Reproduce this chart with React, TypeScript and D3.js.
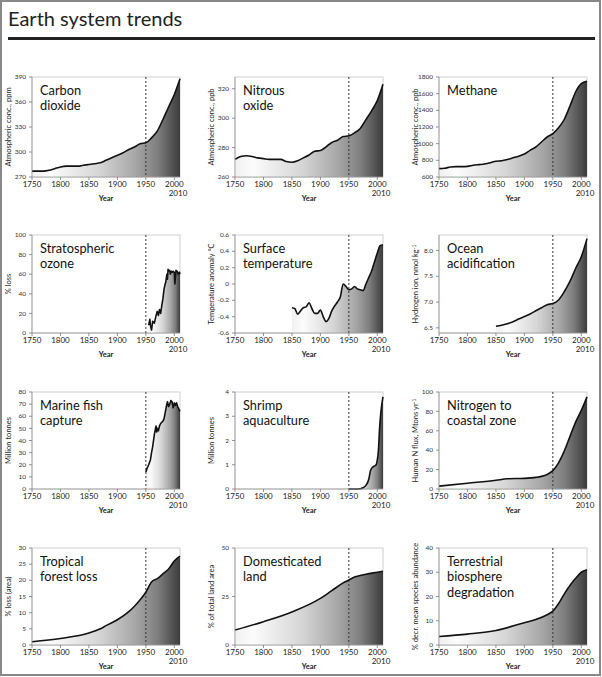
import React from 'react';
import * as d3 from 'd3';

const yearTicks = [1750, 1800, 1850, 1900, 1950, 2000];

const co2Years = [1750, 1760, 1770, 1780, 1790, 1800, 1810, 1820, 1830, 1840, 1850, 1860, 1870, 1880, 1890, 1900, 1910, 1920, 1930, 1940, 1950, 1960, 1970, 1980, 1990, 2000, 2010];
const co2Values = [277, 277, 277, 278, 280, 282, 283, 283, 283, 284, 285, 286, 287, 290, 293, 296, 299, 303, 306, 310, 311, 317, 325, 339, 354, 369, 388];

const n2oYears = [1750, 1760, 1770, 1780, 1790, 1800, 1810, 1820, 1830, 1840, 1850, 1860, 1870, 1880, 1890, 1900, 1910, 1920, 1930, 1940, 1950, 1960, 1970, 1980, 1990, 2000, 2010];
const n2oValues = [272, 274, 274.5, 274, 273, 272.5, 272, 272, 272, 270.5, 270, 271, 273, 275, 277.5, 278, 280.5, 283.5, 285, 287.5, 288, 290, 293, 299, 305, 312, 323];

const ch4Years = [1750, 1760, 1770, 1780, 1790, 1800, 1810, 1820, 1830, 1840, 1850, 1860, 1870, 1880, 1890, 1900, 1910, 1920, 1930, 1940, 1950, 1960, 1970, 1980, 1990, 2000, 2010];
const ch4Values = [700, 705, 720, 725, 725, 728, 740, 748, 755, 770, 790, 795, 810, 830, 850, 875, 920, 960, 1020, 1080, 1120, 1190, 1290, 1450, 1620, 1720, 1750];

const ozoneYears = [1955, 1957, 1958, 1960, 1962, 1965, 1968, 1970, 1972, 1974, 1976, 1978, 1980, 1982, 1984, 1985, 1987, 1988, 1989, 1990, 1992, 1993, 1995, 1997, 1998, 2000, 2001, 2003, 2005, 2007, 2009, 2010];
const ozoneValues = [8, 14, 8, 3, 12, 10, 18, 22, 18, 24, 20, 28, 35, 45, 50, 52, 60, 55, 65, 63, 64, 60, 63, 62, 63, 62, 50, 64, 63, 60, 62, 60];

const tempYears = [1850, 1855, 1860, 1865, 1870, 1875, 1880, 1885, 1890, 1895, 1900, 1905, 1910, 1915, 1920, 1925, 1930, 1935, 1940, 1945, 1950, 1955, 1960, 1965, 1970, 1975, 1980, 1985, 1990, 1995, 2000, 2005, 2010];
const tempValues = [-0.29, -0.3, -0.37, -0.33, -0.29, -0.28, -0.23, -0.3, -0.36, -0.36, -0.32, -0.4, -0.46, -0.42, -0.33, -0.27, -0.22, -0.16, 0.0, -0.03, -0.07, -0.06, -0.03, -0.06, -0.07, -0.08, 0.0, 0.08, 0.16, 0.27, 0.38, 0.47, 0.48];

const oceanYears = [1850, 1860, 1870, 1880, 1890, 1900, 1910, 1920, 1930, 1940, 1950, 1960, 1970, 1980, 1990, 2000, 2010];
const oceanValues = [6.53, 6.55, 6.58, 6.62, 6.67, 6.72, 6.77, 6.83, 6.89, 6.95, 6.97, 7.04, 7.2, 7.4, 7.65, 7.88, 8.23];

const fishYears = [1950, 1952, 1955, 1958, 1960, 1962, 1965, 1967, 1968, 1969, 1970, 1972, 1974, 1976, 1978, 1980, 1982, 1984, 1986, 1988, 1990, 1992, 1994, 1996, 1998, 2000, 2002, 2004, 2006, 2008, 2010];
const fishValues = [14, 17, 20, 24, 30, 35, 45, 50, 52, 47, 50, 48, 52, 54, 55, 56, 58, 63, 68, 72, 68, 70, 73, 72, 67, 71, 69, 71, 68, 66, 64];

const shrimpYears = [1950, 1960, 1970, 1975, 1980, 1985, 1988, 1990, 1995, 1998, 2000, 2002, 2004, 2006, 2008, 2010];
const shrimpValues = [0, 0, 0.01, 0.05, 0.15, 0.4, 0.75, 0.85, 0.95, 1.0, 1.2, 1.6, 2.5, 3.1, 3.5, 3.8];

const nitrogenYears = [1750, 1800, 1850, 1870, 1900, 1920, 1930, 1940, 1950, 1960, 1970, 1980, 1990, 2000, 2010];
const nitrogenValues = [3, 6, 9, 10.5, 11, 12, 13, 15, 19, 27, 39, 54, 69, 81, 95];

const forestYears = [1750, 1800, 1850, 1870, 1880, 1900, 1920, 1930, 1940, 1950, 1960, 1970, 1980, 1990, 2000, 2010];
const forestValues = [1, 2, 3.7, 5, 6, 7.8, 10.3, 12, 14, 16.3, 19.5, 20.5, 22, 23.5, 26, 27.5];

const landYears = [1750, 1800, 1850, 1900, 1920, 1940, 1950, 1960, 1980, 2000, 2010];
const landValues = [7.7, 12, 17, 24, 28, 32, 33.5, 35, 36.5, 37.5, 38];

const bioYears = [1750, 1800, 1850, 1900, 1920, 1940, 1950, 1960, 1970, 1980, 1990, 2000, 2010];
const bioValues = [3.5, 4.5, 6, 9.2, 10.5, 12.5, 14, 17, 21, 24.5, 27.5, 30, 31];

const FONT = 'Lato, "Open Sans", sans-serif';
const COL_X = [32, 235, 439];
const ROW_Y = [77, 235, 392, 548];
const ROW_H = [100, 98, 97, 97];
const PW = 148;

type PanelDef = {
  id: string;
  years: number[];
  values: number[];
  domain: [number, number];
  ticks: number[];
  fmt?: (v: number) => string;
  title: string[];
  ylabel: React.ReactNode;
  col: number;
  row: number;
  jagged?: boolean;
};

const panels: PanelDef[] = [
  { id: 'co2', years: co2Years, values: co2Values, domain: [270, 390], ticks: [270, 300, 330, 360, 390], title: ['Carbon', 'dioxide'], ylabel: 'Atmospheric conc., ppm', col: 0, row: 0 },
  { id: 'n2o', years: n2oYears, values: n2oValues, domain: [260, 328], ticks: [260, 280, 300, 320], title: ['Nitrous', 'oxide'], ylabel: 'Atmospheric conc., ppb', col: 1, row: 0 },
  { id: 'ch4', years: ch4Years, values: ch4Values, domain: [600, 1800], ticks: [600, 800, 1000, 1200, 1400, 1600, 1800], title: ['Methane'], ylabel: 'Atmospheric conc., ppb', col: 2, row: 0 },
  { id: 'ozone', years: ozoneYears, values: ozoneValues, domain: [0, 100], ticks: [0, 20, 40, 60, 80, 100], title: ['Stratospheric', 'ozone'], ylabel: '% loss', col: 0, row: 1, jagged: true },
  { id: 'temp', years: tempYears, values: tempValues, domain: [-0.6, 0.6], ticks: [-0.6, -0.4, -0.2, 0, 0.2, 0.4, 0.6], fmt: (v) => (Math.abs(v) < 1e-9 ? '0' : v.toFixed(1)), title: ['Surface', 'temperature'], ylabel: 'Temperature anomaly °C', col: 1, row: 1 },
  { id: 'ocean', years: oceanYears, values: oceanValues, domain: [6.4, 8.3], ticks: [6.5, 7.0, 7.5, 8.0], fmt: (v) => v.toFixed(1), title: ['Ocean', 'acidification'], ylabel: (<>Hydrogen ion, nmol kg<tspan dy={-2.5} fontSize={5}>-1</tspan></>), col: 2, row: 1 },
  { id: 'fish', years: fishYears, values: fishValues, domain: [0, 80], ticks: [0, 10, 20, 30, 40, 50, 60, 70, 80], title: ['Marine fish', 'capture'], ylabel: 'Million tonnes', col: 0, row: 2, jagged: true },
  { id: 'shrimp', years: shrimpYears, values: shrimpValues, domain: [0, 4], ticks: [0, 1, 2, 3, 4], title: ['Shrimp', 'aquaculture'], ylabel: 'Million tonnes', col: 1, row: 2 },
  { id: 'nitro', years: nitrogenYears, values: nitrogenValues, domain: [0, 100], ticks: [0, 20, 40, 60, 80, 100], title: ['Nitrogen to', 'coastal zone'], ylabel: (<>Human N flux, Mtons yr<tspan dy={-2.5} fontSize={5}>-1</tspan></>), col: 2, row: 2 },
  { id: 'forest', years: forestYears, values: forestValues, domain: [0, 30], ticks: [0, 5, 10, 15, 20, 25, 30], title: ['Tropical', 'forest loss'], ylabel: '% loss (area)', col: 0, row: 3 },
  { id: 'land', years: landYears, values: landValues, domain: [0, 50], ticks: [0, 25, 50], title: ['Domesticated', 'land'], ylabel: '% of total land area', col: 1, row: 3 },
  { id: 'bio', years: bioYears, values: bioValues, domain: [0, 40], ticks: [0, 10, 20, 30, 40], title: ['Terrestrial', 'biosphere', 'degradation'], ylabel: '% decr. mean species abundance', col: 2, row: 3 },
];

function Panel({ p }: { p: PanelDef }) {
  const left = COL_X[p.col];
  const top = ROW_Y[p.row];
  const h = ROW_H[p.row];
  const x = d3.scaleLinear().domain([1750, 2010]).range([0, PW]);
  const y = d3.scaleLinear().domain(p.domain).range([h, 0]);
  const pts: [number, number][] = p.years.map((yr, i) => [yr, p.values[i]]);
  const curve = p.jagged ? d3.curveLinear : d3.curveMonotoneX;
  const line = d3.line<[number, number]>().x((d) => x(d[0])).y((d) => y(d[1])).curve(curve);
  const area = d3.area<[number, number]>().x((d) => x(d[0])).y0(h).y1((d) => y(d[1])).curve(curve);
  const fmt = p.fmt || ((v: number) => String(v));
  const gid = 'grad-' + p.id;
  return (
    <g transform={`translate(${left},${top})`}>
      <defs>
        <linearGradient id={gid} x1="0" x2="1" y1="0" y2="0">
          <stop offset="0" stopColor="#f0f0f0" />
          <stop offset="0.12" stopColor="#fcfcfc" />
          <stop offset="0.45" stopColor="#d6d6d6" />
          <stop offset="0.7" stopColor="#a6a6a6" />
          <stop offset="0.85" stopColor="#7e7e7e" />
          <stop offset="1" stopColor="#3c3c3c" />
        </linearGradient>
      </defs>
      <rect x={0} y={0} width={PW} height={h} fill="none" stroke="#c4c4c4" strokeWidth={0.8} />
      <path d={area(pts) || ''} fill={`url(#${gid})`} />
      <line x1={x(1950)} x2={x(1950)} y1={0} y2={h} stroke="#333" strokeWidth={1} strokeDasharray="2,2" />
      <path d={line(pts) || ''} fill="none" stroke="#111" strokeWidth={1.6} strokeLinejoin="round" />
      <line x1={0} x2={0} y1={0} y2={h} stroke="#999" strokeWidth={0.8} />
      <line x1={0} x2={PW} y1={h} y2={h} stroke="#999" strokeWidth={0.8} />
      {p.ticks.map((t) => (
        <g key={t} transform={`translate(0,${y(t)})`}>
          <line x1={-3} x2={0} stroke="#777" strokeWidth={0.8} />
          <text x={-6} dy="0.33em" textAnchor="end" fontSize={6.5} fill="#333" fontFamily={FONT}>{fmt(t)}</text>
        </g>
      ))}
      {yearTicks.map((t) => (
        <g key={t} transform={`translate(${x(t)},${h})`}>
          <line y1={0} y2={3} stroke="#777" strokeWidth={0.8} />
          <text y={10} textAnchor="middle" fontSize={8} fill="#222" fontFamily={FONT}>{t}</text>
        </g>
      ))}
      <text x={x(2010) - 2} y={h + 19} textAnchor="middle" fontSize={8} fill="#222" fontFamily={FONT}>2010</text>
      <text x={PW / 2} y={h + 24} textAnchor="middle" fontSize={7.5} fontWeight="bold" fill="#222" fontFamily={FONT}>Year</text>
      <text transform={`translate(${-21},${h / 2}) rotate(-90)`} textAnchor="middle" fontSize={7.5} fill="#222" fontFamily={FONT}>{p.ylabel}</text>
      <text x={8} y={18} fontSize={12.8} fill="#111" fontFamily={FONT}>
        {p.title.map((t, i) => (
          <tspan key={i} x={8} dy={i === 0 ? 0 : 15.4}>{t}</tspan>
        ))}
      </text>
    </g>
  );
}

export default function App() {
  return (
    <div style={{ position: 'absolute', left: 0, top: 0 }}>
      <svg width={602} height={677} style={{ display: 'block', background: '#fff' }}>
        <rect x={1} y={1} width={599} height={674} fill="#fff" stroke="#888" strokeWidth={2} />
        <text x={8} y={26} fontSize={20} fill="#222" fontFamily={FONT}>Earth system trends</text>
        <rect x={8} y={37} width={587} height={3} fill="#222" />
        {panels.map((p) => (
          <Panel key={p.id} p={p} />
        ))}
      </svg>
    </div>
  );
}
